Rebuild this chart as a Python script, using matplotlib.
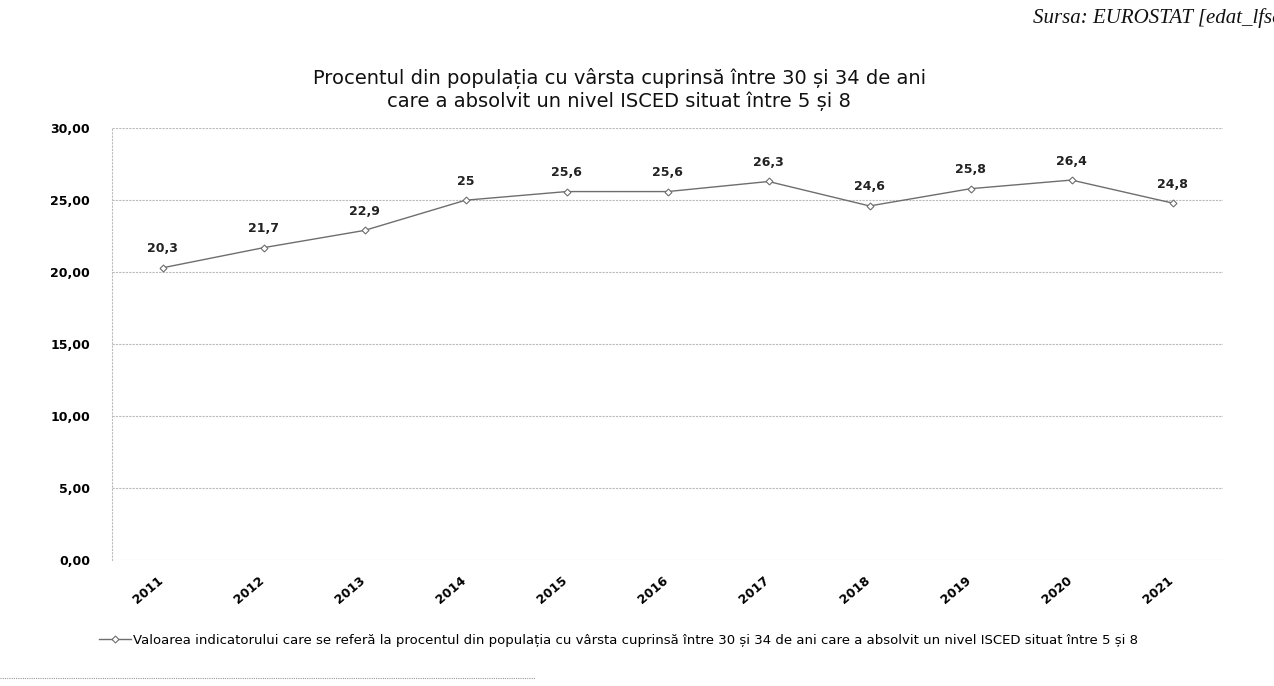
import matplotlib
matplotlib.use("Agg")
import matplotlib.pyplot as plt
from matplotlib.transforms import ScaledTranslation

years = ["2011", "2012", "2013", "2014", "2015", "2016", "2017", "2018", "2019", "2020", "2021"]
values = [20.3, 21.7, 22.9, 25.0, 25.6, 25.6, 26.3, 24.6, 25.8, 26.4, 24.8]
value_labels = ["20,3", "21,7", "22,9", "25", "25,6", "25,6", "26,3", "24,6", "25,8", "26,4", "24,8"]
yticks = [0, 5, 10, 15, 20, 25, 30]
ytick_labels = ["0,00", "5,00", "10,00", "15,00", "20,00", "25,00", "30,00"]
title = "Procentul din populația cu vârsta cuprinsă între 30 și 34 de ani\ncare a absolvit un nivel ISCED situat între 5 și 8"
legend_label = "Valoarea indicatorului care se referă la procentul din populația cu vârsta cuprinsă între 30 și 34 de ani care a absolvit un nivel ISCED situat între 5 și 8"
source = "Sursa: EUROSTAT [edat_lfse_03]"

fig = plt.figure(figsize=(12.74, 6.86), dpi=100)
ax = fig.add_axes([0.088, 0.184, 0.872, 0.629])

x = list(range(len(years)))
line, = ax.plot(x, values, color="#6e6e6e", lw=1.0, marker="D", ms=3.5,
                mfc="white", mec="#6e6e6e", mew=0.8, label=legend_label)
for xi, v, lab in zip(x, values, value_labels):
    ax.annotate(lab, (xi, v), xytext=(0, 9), textcoords="offset points",
                ha="center", va="bottom", fontsize=9, color="#222222", fontweight="bold")

ax.set_xlim(-0.5, len(years) - 0.5)
ax.set_ylim(0, 30)
ax.set_yticks(yticks)
ax.set_yticklabels(ytick_labels, fontsize=9, fontweight="bold")
ax.set_xticks(x)
ax.set_xticklabels(years, rotation=40, ha="right", va="top", rotation_mode="anchor",
                   fontsize=9, fontweight="bold")
ax.tick_params(axis="y", length=0, pad=16)
ax.tick_params(axis="x", length=0, pad=10)
offset = ScaledTranslation(-4 / 72, 0, fig.dpi_scale_trans)
for lbl in ax.get_xticklabels():
    lbl.set_transform(lbl.get_transform() + offset)
ax.grid(axis="y", color="#bbbbbb", lw=0.8, ls=(0, (2, 1)))
ax.set_axisbelow(True)
for s in ["top", "right", "bottom"]:
    ax.spines[s].set_visible(False)
ax.spines["left"].set_color("#bbbbbb")
ax.spines["left"].set_linestyle((0, (1, 2)))

fig.text(0.486, 0.870, title, ha="center", va="center", fontsize=14, color="#111111",
         linespacing=1.15)
fig.text(0.811, 0.988, source, ha="left", va="top", fontsize=15, fontstyle="italic",
         family="Liberation Serif", color="#111111")

leg = fig.legend(handles=[line], loc="center left", bbox_to_anchor=(0.068, 0.067),
                 frameon=False, fontsize=9.5, handlelength=2.5, handletextpad=0.1)

fig.add_artist(plt.Line2D([0.0, 0.42], [0.012, 0.012], color="#999999", lw=0.8,
                          ls=(0, (1, 1)), transform=fig.transFigure))

fig.savefig("out.png", dpi=100, facecolor="white")
